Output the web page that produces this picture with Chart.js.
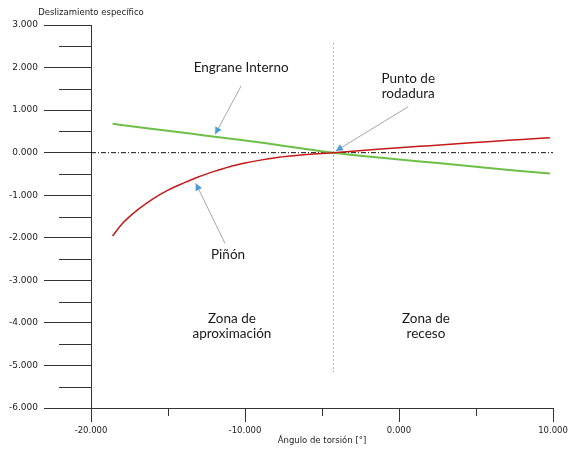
<!DOCTYPE html>
<html lang="es">
<head>
<meta charset="utf-8">
<script src="https://cdn.jsdelivr.net/npm/chart.js@4.4.0/dist/chart.umd.min.js"></script>
<style>
    html, body { margin: 0; padding: 0; background: #ffffff; }
    #wrap { width: 568px; height: 451px; position: relative; }
</style>
</head>
<body>
<div id="wrap"><canvas id="chart"></canvas></div>
<script>
"use strict";

// Ángulo de torsión [°] vs deslizamiento específico
const pinionAngles = [-18.6, -18.0, -17.0, -16.0, -15.0, -14.0, -13.0, -12.0, -11.0, -10.0, -9.0, -8.0, -7.0, -6.0, -5.0, -4.26, -2.0, 0.0, 2.0, 4.0, 6.0, 8.0, 9.8];
const pinionSliding = [-1.96, -1.68, -1.35, -1.09, -0.88, -0.715, -0.565, -0.44, -0.33, -0.245, -0.175, -0.117, -0.077, -0.045, -0.019, 0.0, 0.06, 0.115, 0.165, 0.215, 0.265, 0.31, 0.353];

const gearAngles = [-18.6, -16.5, -14.5, -12.5, -10.5, -8.5, -6.5, -4.26, -2.0, 0.0, 2.7, 5.0, 7.5, 9.8];
const gearSliding = [0.68, 0.58, 0.49, 0.40, 0.31, 0.215, 0.11, 0.0, -0.09, -0.16, -0.25, -0.33, -0.42, -0.49];

const pitchAngle = -4.26;
const pitchLineRange = [2.58, -5.16];

const xMajorTicks = [-20, -10, 0, 10];
const xMinorTicks = [-15, -5, 5];
const yMinorTicks = [2.5, 1.5, 0.5, -0.5, -1.5, -2.5, -3.5, -4.5, -5.5];

const textFont = "Lato, 'Open Sans', sans-serif";
const axisFont = "'DejaVu Sans', Verdana, sans-serif";

const annotations = [
    { lines: ["Engrane Interno"], x: -10.25, y: 1.99, arrow: [-10.25, 1.57, -11.94, 0.43] },
    { lines: ["Punto de", "rodadura"], x: 0.6, y: 1.75, arrow: [0.6, 1.08, -4.1, 0.04] },
    { lines: ["Piñón"], x: -11.1, y: -2.4, arrow: [-11.3, -2.13, -13.2, -0.72] },
    { lines: ["Zona de", "aproximación"], x: -10.85, y: -3.89 },
    { lines: ["Zona de", "receso"], x: 1.75, y: -3.89 }
];

function toPoints(xs, ys) {
    return xs.map((x, i) => ({ x, y: ys[i] }));
}

function drawArrow(ctx, x1, y1, x2, y2) {
    ctx.save();
    ctx.strokeStyle = "#a6a6a6";
    ctx.lineWidth = 1;
    ctx.beginPath();
    ctx.moveTo(x1, y1);
    ctx.lineTo(x2, y2);
    ctx.stroke();

    const angle = Math.atan2(y2 - y1, x2 - x1);
    const len = 7;
    const half = 3.5;
    ctx.translate(x2, y2);
    ctx.rotate(angle);
    ctx.fillStyle = "#4a9bd9";
    ctx.beginPath();
    ctx.moveTo(0, 0);
    ctx.lineTo(-len, -half);
    ctx.lineTo(-len, half);
    ctx.closePath();
    ctx.fill();
    ctx.restore();
}

const overlayPlugin = {
    id: "overlay",
    afterDraw(chart) {
        const ctx = chart.ctx;
        const xs = chart.scales.x;
        const ys = chart.scales.y;

        ctx.save();
        ctx.strokeStyle = "#333333";
        ctx.lineWidth = 1;

        // minor ticks
        for (const v of yMinorTicks) {
            const py = Math.round(ys.getPixelForValue(v)) + 0.5;
            ctx.beginPath();
            ctx.moveTo(ys.right - 32, py);
            ctx.lineTo(ys.right, py);
            ctx.stroke();
        }
        for (const v of xMinorTicks) {
            const px = Math.round(xs.getPixelForValue(v)) + 0.5;
            ctx.beginPath();
            ctx.moveTo(px, xs.top);
            ctx.lineTo(px, xs.top + 8);
            ctx.stroke();
        }

        // y axis title
        ctx.fillStyle = "#222222";
        ctx.font = "8.5px " + axisFont;
        ctx.textAlign = "center";
        ctx.textBaseline = "middle";
        ctx.fillText("Deslizamiento específico", ys.right, 13);

        // annotations
        ctx.font = "13.5px " + textFont;
        ctx.fillStyle = "#1a1a1a";
        for (const a of annotations) {
            const cx = xs.getPixelForValue(a.x);
            const cy = ys.getPixelForValue(a.y);
            a.lines.forEach((line, i) => ctx.fillText(line, cx, cy + i * 15.5));
            if (a.arrow) {
                drawArrow(ctx,
                    xs.getPixelForValue(a.arrow[0]), ys.getPixelForValue(a.arrow[1]),
                    xs.getPixelForValue(a.arrow[2]), ys.getPixelForValue(a.arrow[3]));
            }
        }
        ctx.restore();
    }
};

new Chart(document.getElementById("chart"), {
    type: "scatter",
    data: {
        datasets: [
            {
                label: "Piñón",
                data: toPoints(pinionAngles, pinionSliding),
                showLine: true,
                borderColor: "#c41a1a",
                borderWidth: 1.5,
                pointRadius: 0,
                cubicInterpolationMode: "monotone"
            },
            {
                label: "Engrane Interno",
                data: toPoints(gearAngles, gearSliding),
                showLine: true,
                borderColor: "#6dbf48",
                borderWidth: 2,
                pointRadius: 0,
                cubicInterpolationMode: "monotone"
            },
            {
                label: "cero",
                data: toPoints([xMajorTicks[0], xMajorTicks[xMajorTicks.length - 1]], [0, 0]),
                showLine: true,
                borderColor: "#111111",
                borderWidth: 1,
                borderDash: [5, 2, 1, 2],
                pointRadius: 0
            },
            {
                label: "rodadura",
                data: toPoints([pitchAngle, pitchAngle], pitchLineRange),
                showLine: true,
                borderColor: "#b0b0b0",
                borderWidth: 1,
                borderDash: [2, 2],
                pointRadius: 0
            }
        ]
    },
    options: {
        responsive: true,
        maintainAspectRatio: false,
        animation: false,
        layout: { padding: { top: 25, right: 15, left: 0, bottom: 0 } },
        scales: {
            x: {
                type: "linear",
                min: -20,
                max: 10,
                border: { color: "#333333", width: 1 },
                grid: { drawOnChartArea: false, tickLength: 14, color: "#333333" },
                ticks: {
                    stepSize: 10,
                    autoSkip: false,
                    maxRotation: 0,
                    padding: 4,
                    color: "#222222",
                    font: { family: axisFont, size: 8.5 },
                    callback: (v) => v.toFixed(3)
                },
                title: {
                    display: true,
                    text: "Ángulo de torsión [°]",
                    color: "#222222",
                    font: { family: axisFont, size: 8.5 },
                    padding: { top: 0, bottom: 5 }
                },
                afterFit: (scale) => {
                    scale.height = 43;
                    scale.paddingLeft = 0;
                    scale.paddingRight = 0;
                }
            },
            y: {
                type: "linear",
                min: -6,
                max: 3,
                border: { color: "#333333", width: 1 },
                grid: { drawOnChartArea: false, tickLength: 47, color: "#333333" },
                ticks: {
                    stepSize: 1,
                    padding: 6,
                    color: "#222222",
                    font: { family: axisFont, size: 9 },
                    callback: (v) => v.toFixed(3)
                },
                afterFit: (scale) => {
                    scale.width = 91;
                    scale.paddingTop = 0;
                    scale.paddingBottom = 0;
                }
            }
        },
        plugins: {
            legend: { display: false },
            tooltip: { enabled: false }
        }
    },
    plugins: [overlayPlugin]
});
</script>
</body>
</html>
